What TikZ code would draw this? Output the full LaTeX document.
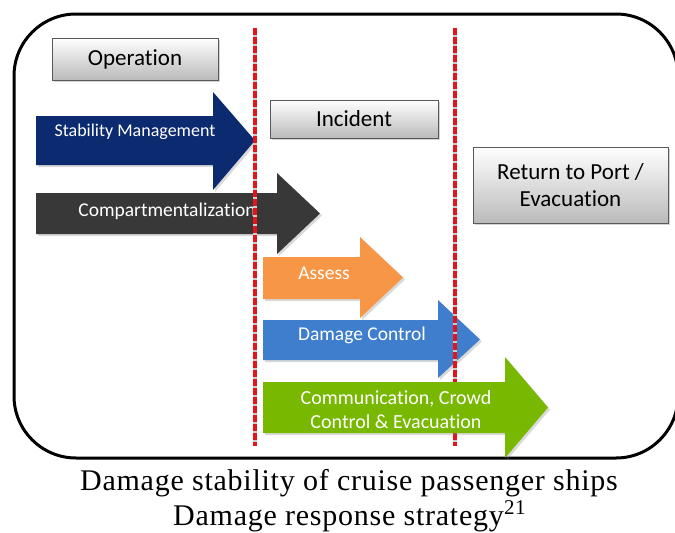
\documentclass[tikz,border=0pt]{standalone}
\usepackage{fontspec}
\setmainfont{Liberation Serif}
\newfontfamily\capfont[LetterSpace=2.5]{Liberation Serif}
\newfontfamily\boxfont[Ligatures=NoCommon]{Carlito}
\usetikzlibrary{shadows}

\definecolor{navyarrow}{HTML}{0B2A70}
\definecolor{darkarrow}{HTML}{383838}
\definecolor{orangearrow}{HTML}{F79646}
\definecolor{bluearrow}{HTML}{3F7ECC}
\definecolor{greenarrow}{HTML}{78B800}
\definecolor{cutred}{HTML}{E3141B}

\tikzset{
  phasebox/.style={draw=black!65, top color=white, bottom color=black!27,
    align=center, inner sep=0pt,
    font=\boxfont\fontsize{23}{27}\selectfont,
    drop shadow={shadow xshift=2pt, shadow yshift=-2pt, opacity=0.35}},
  arrowshade/.style={drop shadow={shadow xshift=2pt, shadow yshift=-2pt, opacity=0.3}},
  arrowtext/.style={text=white, align=center, inner sep=0pt},
  cutline/.style={cutred, line width=3.5pt, dash pattern=on 7pt off 2pt}
}

\begin{document}
\begin{tikzpicture}[x=1pt,y=-1pt]
\useasboundingbox (0,0) rectangle (675,533);
% frame
\draw[line width=3pt, rounded corners=62pt] (14,14) rectangle (678,458);

% phases
\node[phasebox, minimum width=166pt, minimum height=42pt] (operation) at (135,59) {Operation};
\node[phasebox, minimum width=168pt, minimum height=38pt] (incident) at (354,119) {Incident};
\node[phasebox, minimum width=195pt, minimum height=76pt] (return) at (570.5,185) {Return to Port /\\Evacuation};

% arrows
\fill[navyarrow, arrowshade] (36,116) -- (213,116) -- (213,92) -- (255,140.5) -- (213,190) -- (213,165) -- (36,165) -- cycle;
\node[arrowtext, font=\boxfont\fontsize{18}{20}\selectfont] (stability) at (135,132) {Stability Management};

\fill[darkarrow, arrowshade] (36,193) -- (277,193) -- (277,173) -- (320,213.5) -- (277,254) -- (277,234) -- (36,234) -- cycle;
\node[arrowtext, font=\boxfont\fontsize{19.5}{22}\selectfont] (compart) at (167,211) {Compartmentalization};

\fill[orangearrow, arrowshade] (263,257) -- (360,257) -- (360,237) -- (403,277.5) -- (360,318) -- (360,299) -- (263,299) -- cycle;
\node[arrowtext, font=\boxfont\fontsize{19.5}{22}\selectfont] (assess) at (324,273) {Assess};

\fill[bluearrow, arrowshade] (263,320) -- (438,320) -- (438,300) -- (480,339.5) -- (438,378) -- (438,360) -- (263,360) -- cycle;
\node[arrowtext, font=\boxfont\fontsize{19.5}{22}\selectfont] (damagectl) at (362,335) {Damage Control};

% phase borders
\draw[black!20, line width=3.5pt] (255,28) -- (255,446);
\draw[cutline] (255,28) -- (255,446);
\draw[black!20, line width=3.5pt] (455,28) -- (455,446);
\draw[cutline] (455,28) -- (455,446);

% last arrow lies over the border
\fill[greenarrow, arrowshade] (263,382) -- (505,382) -- (505,357) -- (548,407.5) -- (505,458) -- (505,433) -- (263,433) -- cycle;
\node[arrowtext, font=\boxfont\fontsize{20}{24}\selectfont] (communic) at (396,410) {Communication, Crowd\\Control \& Evacuation};

% caption
\node[anchor=base, inner sep=0pt, font=\capfont\fontsize{30}{34}\selectfont] (caption) at (349,490) {Damage stability of cruise passenger ships};
\node[anchor=base west, inner sep=0pt, font=\capfont\fontsize{30}{34}\selectfont] (subcaption) at (173,525) {Damage response strategy};
\node[anchor=base west, inner sep=0pt, font=\capfont\fontsize{21}{24}\selectfont] (footref) at (subcaption.base east) [yshift=11pt] {21};
\end{tikzpicture}
\end{document}
